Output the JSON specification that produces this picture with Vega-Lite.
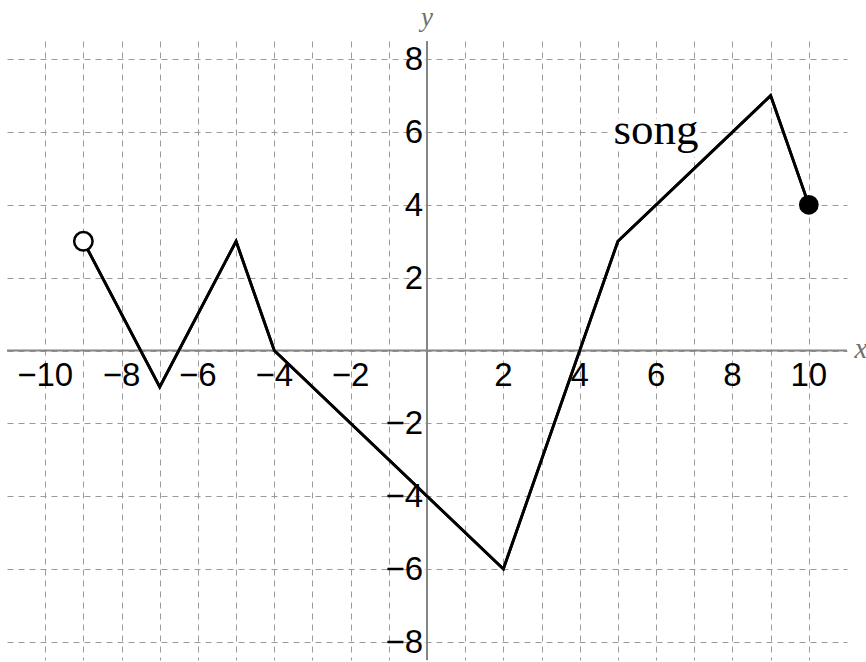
{
  "$schema": "https://vega.github.io/schema/vega-lite/v6.json",
  "width": 840,
  "height": 619,
  "autosize": {"type": "none"},
  "padding": {"left": 7, "top": 41, "right": 19, "bottom": 2},
  "background": "white",
  "config": {"view": {"stroke": null}},
  "datasets": {
    "graph": [
      {"x": -9, "y": 3},
      {"x": -7, "y": -1},
      {"x": -5, "y": 3},
      {"x": -4, "y": 0},
      {"x": 2, "y": -6},
      {"x": 5, "y": 3},
      {"x": 9, "y": 7},
      {"x": 10, "y": 4}
    ],
    "xlabels": [
      {"x": -10, "y": 0, "t": "−10"},
      {"x": -8, "y": 0, "t": "−8"},
      {"x": -6, "y": 0, "t": "−6"},
      {"x": -4, "y": 0, "t": "−4"},
      {"x": -2, "y": 0, "t": "−2"},
      {"x": 2, "y": 0, "t": "2"},
      {"x": 4, "y": 0, "t": "4"},
      {"x": 6, "y": 0, "t": "6"},
      {"x": 8, "y": 0, "t": "8"},
      {"x": 10, "y": 0, "t": "10"}
    ],
    "ylabels": [
      {"x": 0, "y": -8, "t": "−8"},
      {"x": 0, "y": -6, "t": "−6"},
      {"x": 0, "y": -4, "t": "−4"},
      {"x": 0, "y": -2, "t": "−2"},
      {"x": 0, "y": 2, "t": "2"},
      {"x": 0, "y": 4, "t": "4"},
      {"x": 0, "y": 6, "t": "6"},
      {"x": 0, "y": 8, "t": "8"}
    ]
  },
  "layer": [
    {
      "data": {"name": "graph"},
      "mark": {"type": "line", "color": "black", "strokeWidth": 2.8},
      "encoding": {
        "x": {
          "field": "x", "type": "quantitative",
          "scale": {"domain": [-11, 11], "nice": false, "zero": false},
          "axis": {
            "values": [-10,-9,-8,-7,-6,-5,-4,-3,-2,-1,0,1,2,3,4,5,6,7,8,9,10],
            "grid": true, "gridDash": [6, 5], "gridColor": "#9a9a9a", "gridWidth": 1, "gridOpacity": 1,
            "labels": false, "ticks": false, "domain": false, "title": null
          }
        },
        "y": {
          "field": "y", "type": "quantitative",
          "scale": {"domain": [-8.5, 8.5], "nice": false, "zero": false},
          "axis": {
            "values": [-8,-7,-6,-5,-4,-3,-2,-1,0,1,2,3,4,5,6,7,8],
            "grid": true, "gridDash": [6, 5], "gridColor": "#9a9a9a", "gridWidth": 1, "gridOpacity": 1,
            "labels": false, "ticks": false, "domain": false, "title": null
          }
        }
      }
    },
    {
      "data": {"values": [{"y": 0}]},
      "mark": {"type": "rule", "color": "#858585", "strokeWidth": 2},
      "encoding": {"y": {"field": "y", "type": "quantitative"}}
    },
    {
      "data": {"values": [{"x": 0}]},
      "mark": {"type": "rule", "color": "#858585", "strokeWidth": 2},
      "encoding": {"x": {"field": "x", "type": "quantitative"}}
    },
    {
      "data": {"name": "graph"},
      "mark": {"type": "line", "color": "black", "strokeWidth": 2.8},
      "encoding": {
        "x": {"field": "x", "type": "quantitative"},
        "y": {"field": "y", "type": "quantitative"}
      }
    },
    {
      "data": {"name": "xlabels"},
      "mark": {"type": "text", "font": "Liberation Sans", "fontSize": 33, "color": "black", "align": "center", "baseline": "alphabetic", "dy": 35},
      "encoding": {
        "x": {"field": "x", "type": "quantitative"},
        "y": {"field": "y", "type": "quantitative"},
        "text": {"field": "t"}
      }
    },
    {
      "data": {"name": "ylabels"},
      "mark": {"type": "text", "font": "Liberation Sans", "fontSize": 33, "color": "black", "align": "right", "baseline": "middle", "dx": -4, "dy": 1},
      "encoding": {
        "x": {"field": "x", "type": "quantitative"},
        "y": {"field": "y", "type": "quantitative"},
        "text": {"field": "t"}
      }
    },
    {
      "data": {"values": [{"x": 0, "y": 8.5, "t": "y"}]},
      "mark": {"type": "text", "font": "Liberation Serif", "fontStyle": "italic", "fontSize": 27, "color": "#707070", "align": "center", "baseline": "alphabetic", "dy": -15},
      "encoding": {
        "x": {"field": "x", "type": "quantitative"},
        "y": {"field": "y", "type": "quantitative"},
        "text": {"field": "t"}
      }
    },
    {
      "data": {"values": [{"x": 11, "y": 0, "t": "x"}]},
      "mark": {"type": "text", "font": "Liberation Serif", "fontStyle": "italic", "fontSize": 29, "color": "#707070", "align": "center", "baseline": "alphabetic", "dx": 14, "dy": 7},
      "encoding": {
        "x": {"field": "x", "type": "quantitative"},
        "y": {"field": "y", "type": "quantitative"},
        "text": {"field": "t"}
      }
    },
    {
      "data": {"values": [{"x": 6, "y": 6, "t": "song"}]},
      "mark": {"type": "text", "font": "Liberation Serif", "fontSize": 45, "color": "white", "stroke": "white", "strokeWidth": 10, "align": "center", "baseline": "alphabetic", "dy": 12},
      "encoding": {
        "x": {"field": "x", "type": "quantitative"},
        "y": {"field": "y", "type": "quantitative"},
        "text": {"field": "t"}
      }
    },
    {
      "data": {"values": [{"x": 6, "y": 6, "t": "song"}]},
      "mark": {"type": "text", "font": "Liberation Serif", "fontSize": 45, "color": "black", "align": "center", "baseline": "alphabetic", "dy": 12},
      "encoding": {
        "x": {"field": "x", "type": "quantitative"},
        "y": {"field": "y", "type": "quantitative"},
        "text": {"field": "t"}
      }
    },
    {
      "data": {"values": [{"x": -9, "y": 3}]},
      "mark": {"type": "point", "shape": "circle", "filled": false, "fill": "white", "fillOpacity": 1, "stroke": "black", "strokeWidth": 2.5, "size": 340, "opacity": 1},
      "encoding": {
        "x": {"field": "x", "type": "quantitative"},
        "y": {"field": "y", "type": "quantitative"}
      }
    },
    {
      "data": {"values": [{"x": 10, "y": 4}]},
      "mark": {"type": "point", "shape": "circle", "filled": true, "color": "black", "size": 390, "opacity": 1},
      "encoding": {
        "x": {"field": "x", "type": "quantitative"},
        "y": {"field": "y", "type": "quantitative"}
      }
    }
  ]
}
